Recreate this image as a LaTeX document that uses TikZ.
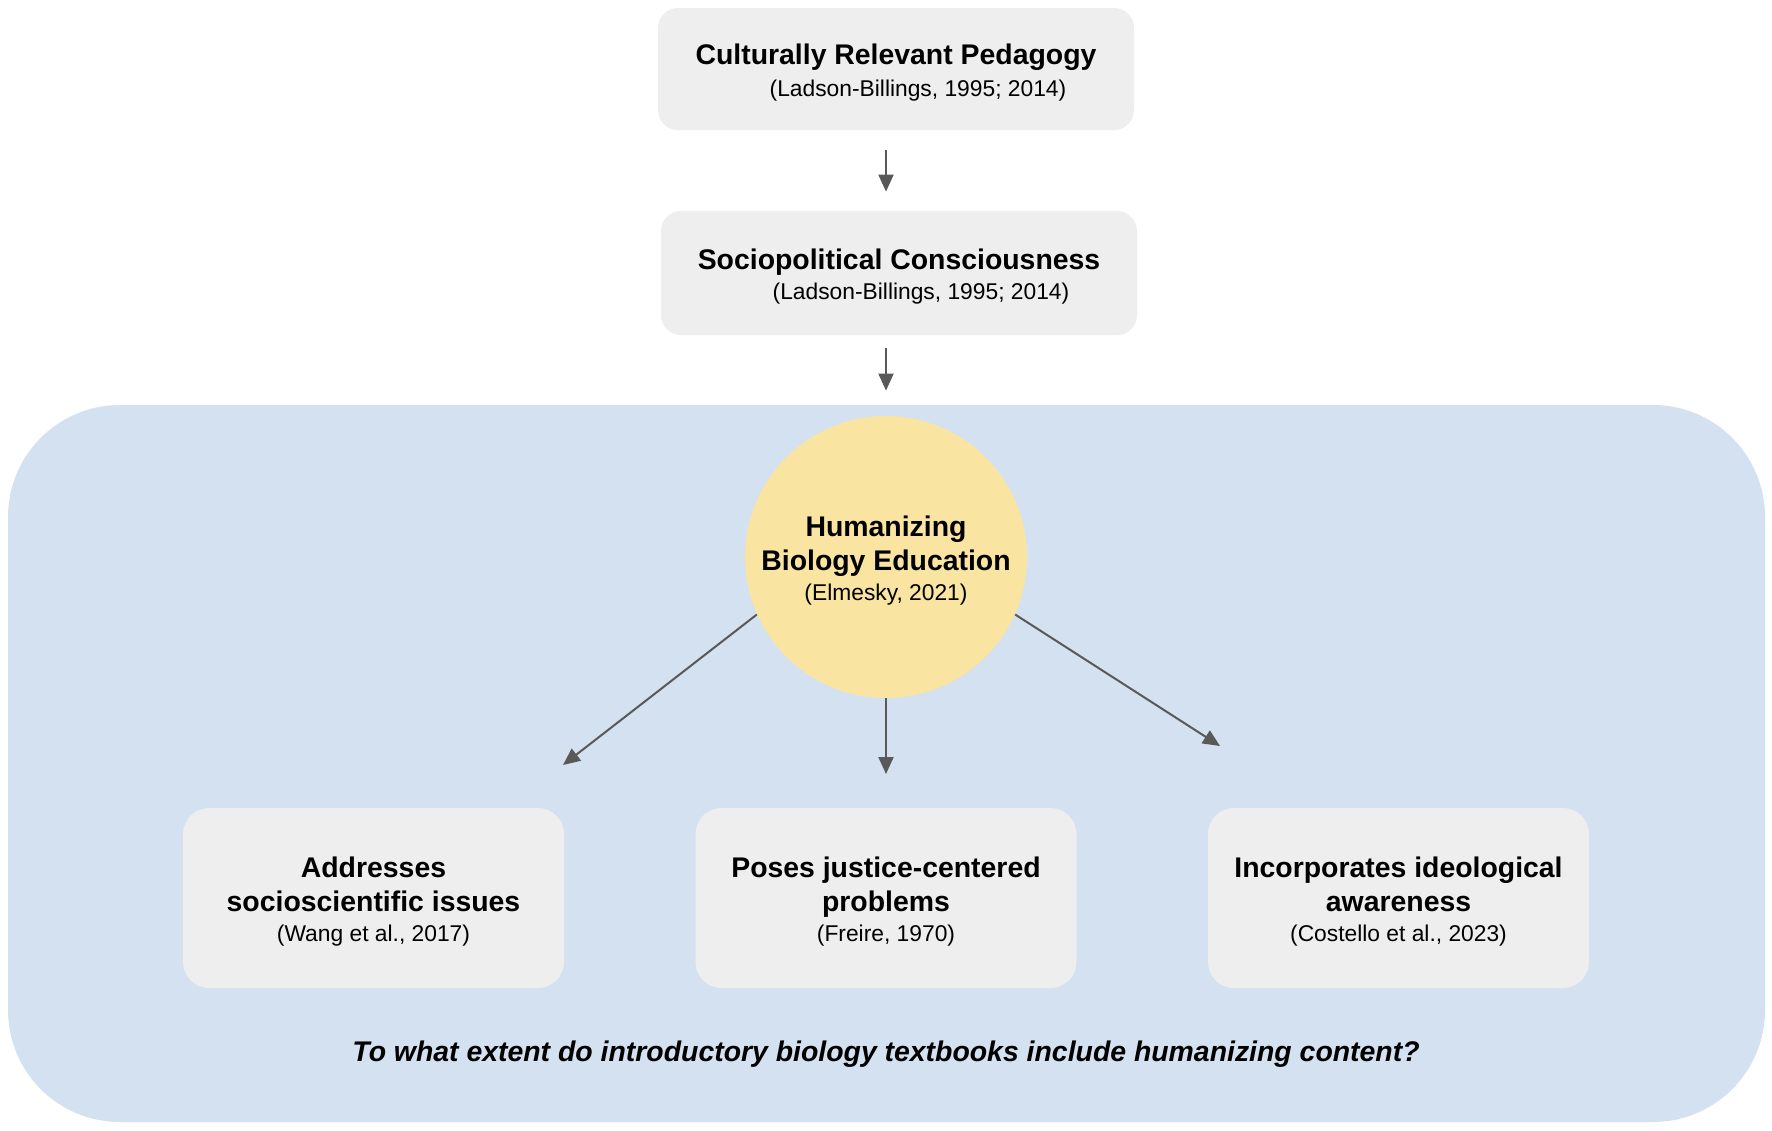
\documentclass[tikz,border=0pt]{standalone}
\usepackage{fontspec}
\setmainfont{Liberation Sans}
\usetikzlibrary{arrows.meta}
\definecolor{boxgray}{HTML}{EEEEEE}
\definecolor{bluebg}{HTML}{D4E1F1}
\definecolor{circyel}{HTML}{FAE4A2}
\definecolor{arrowgray}{HTML}{595959}
\newcommand{\citefnt}{\fontsize{11.4}{13}\selectfont\mdseries}
\newcommand{\topstrut}{\rule{0pt}{13.8pt}}
\begin{document}
\begin{tikzpicture}[x=0.5pt,y=-0.5pt,
  ttl/.style={font=\fontsize{14.2}{17}\selectfont\bfseries},
  topbox/.style={ttl, fill=boxgray, rounded corners=10pt, minimum width=238pt, minimum height=61pt, align=center, inner sep=0pt},
  botbox/.style={ttl, fill=boxgray, rounded corners=13pt, minimum width=190.5pt, minimum height=90pt, align=center, inner sep=0pt},
  panel/.style={fill=bluebg, rounded corners=56pt, minimum width=878.5pt, minimum height=358.5pt, inner sep=0pt},
  hub/.style={ttl, circle, fill=circyel, minimum size=141pt, inner sep=0pt, align=center},
  arr/.style={draw=arrowgray, line width=1pt, -{Triangle[length=8.5pt,width=7.5pt]}, arrowgray}
]
\useasboundingbox (0,0) rectangle (1772,1130);
\fill[white] (0,0) rectangle (1772,1130);

\node[panel] (pan) at (886.5,763.5) {};

\node[topbox] (crp) at (896,69) {\topstrut Culturally Relevant Pedagogy\\[-1.2pt]
  \hspace*{22pt}{\citefnt (Ladson-Billings, 1995; 2014)}};
\node[topbox, minimum height=62pt] (spc) at (899,273) {\topstrut Sociopolitical Consciousness\\[-1.8pt]
  \hspace*{22pt}{\citefnt (Ladson-Billings, 1995; 2014)}};

\node[hub] (hum) at (886,557) {\topstrut Humanizing\\ Biology Education\\[-1.7pt]
  {\citefnt (Elmesky, 2021)}};

\node[botbox] (ssi) at (373.5,898) {\topstrut Addresses\\ socioscientific issues\\[-1.7pt]
  {\citefnt (Wang et al., 2017)}};
\node[botbox] (jcp) at (886,898) {\topstrut Poses justice-centered\\ problems\\[-1.7pt]
  {\citefnt (Freire, 1970)}};
\node[botbox] (ida) at (1398.5,898) {\topstrut Incorporates ideological\\ awareness\\[-1.7pt]
  {\citefnt (Costello et al., 2023)}};

\node[font=\fontsize{14.2}{16}\selectfont\bfseries\itshape] (q) at (886,1054) {To what extent do introductory biology textbooks include humanizing content?};

\coordinate (lt) at (563,765);
\coordinate (mt) at (886,774);
\coordinate (rt) at (1220,746);

\draw[arr, shorten <=10pt, shorten >=9.5pt] (crp.south -| hum.center) -- (spc.north -| hum.center);
\draw[arr, shorten <=6.5pt, shorten >=7pt] (spc.south -| hum.center) -- (pan.north -| hum.center);
\draw[arr] (hum.204) -- (lt);
\draw[arr] (hum.south) -- (mt);
\draw[arr] (hum.336) -- (rt);
\end{tikzpicture}
\end{document}
